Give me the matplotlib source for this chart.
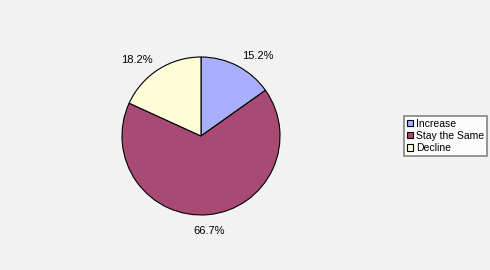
import matplotlib
matplotlib.use("Agg")
import matplotlib.pyplot as plt

categories = ["Increase", "Stay the Same", "Decline"]
values = [15.2, 66.7, 18.2]
colors = ["#a9afff", "#a84a73", "#fffcd8"]

plt.rcParams['font.family'] = ['Liberation Sans', 'DejaVu Sans']

fig = plt.figure(figsize=(4.9, 2.7), dpi=100, facecolor="#f2f2f2")
ax = fig.add_axes([0, 0, 1, 1])
ax.set_facecolor("#f2f2f2")

total = sum(values)
cx, cy, R = 201, 134, 79
wedges, texts, autotexts = ax.pie(
    values, colors=colors, startangle=90, counterclock=False,
    center=(cx, cy), radius=R, frame=True,
    autopct=lambda p: f"{p * total / 100:.1f}%", pctdistance=1.14,
    wedgeprops=dict(edgecolor='black', linewidth=0.8),
    textprops=dict(fontsize=8, color='black'))
for t in autotexts:
    x, y = t.get_position()
    if x > cx + 0.3 * R:
        t.set_ha('left')
    elif x < cx - 0.3 * R:
        t.set_ha('right')
    else:
        t.set_ha('center')
        t.set_va('top')
        continue
    t.set_va('center')

ax.set_xlim(0, 490)
ax.set_ylim(0, 270)
ax.set_aspect('equal')
ax.axis('off')

leg = fig.legend(wedges, categories, loc='center left',
                 bbox_to_anchor=(404/490, 0.497), fontsize=7.5,
                 frameon=True, fancybox=False, handlelength=0.6,
                 handleheight=0.6, handletextpad=0.25, borderpad=0.3,
                 labelspacing=0.2, borderaxespad=0)
leg.get_frame().set_edgecolor('#666666')
leg.get_frame().set_linewidth(1.2)
leg.get_frame().set_facecolor('white')

fig.savefig("out.png", dpi=100, facecolor=fig.get_facecolor())
